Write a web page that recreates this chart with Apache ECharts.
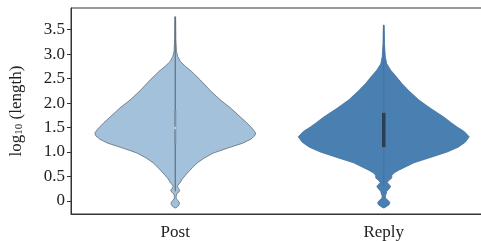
<!DOCTYPE html>
<html>
<head>
<meta charset="utf-8">
<script src="https://cdn.jsdelivr.net/npm/echarts@6/dist/echarts.min.js"></script>
<style>
  html, body { margin: 0; padding: 0; background: #fff; overflow: hidden; }
  /* plot frame runs past the right edge of the picture, as in the source figure */
  #chart { width: 488px; height: 241px; }
</style>
</head>
<body>
<div id="chart"></div>
<script>
// categories
const categories = ['Post', 'Reply'];

// violin profiles: log10(length) levels and density (reply peak = 1)
const postLevels = [-0.14, -0.11, -0.07, -0.03, 0.01, 0.05, 0.1, 0.15, 0.18, 0.22, 0.26, 0.3, 0.33, 0.38, 0.45, 0.57, 0.68, 0.78, 0.88, 0.98, 1.08, 1.18, 1.26, 1.33, 1.39, 1.47, 1.6, 1.71, 1.9, 2.06, 2.25, 2.47, 2.65, 2.75, 2.85, 2.95, 3.05, 3.3, 3.76];
const postDensity = [0, 0.03, 0.047, 0.047, 0.03, 0.012, 0.01, 0.018, 0.041, 0.053, 0.035, 0.024, 0.035, 0.059, 0.082, 0.141, 0.2, 0.259, 0.341, 0.447, 0.612, 0.788, 0.882, 0.929, 0.941, 0.906, 0.835, 0.765, 0.647, 0.529, 0.412, 0.294, 0.188, 0.118, 0.059, 0.029, 0.014, 0.007, 0.004];

const replyLevels = [-0.14, -0.11, -0.07, -0.03, 0.01, 0.05, 0.1, 0.15, 0.2, 0.24, 0.3, 0.34, 0.38, 0.42, 0.47, 0.52, 0.57, 0.63, 0.69, 0.78, 0.9, 1.0, 1.1, 1.2, 1.31, 1.42, 1.51, 1.6, 1.71, 1.9, 2.06, 2.25, 2.4, 2.55, 2.67, 2.8, 2.95, 3.2, 3.59];
const replyDensity = [0, 0.035, 0.065, 0.071, 0.053, 0.024, 0.018, 0.029, 0.035, 0.059, 0.082, 0.059, 0.041, 0.059, 0.094, 0.094, 0.118, 0.176, 0.247, 0.353, 0.565, 0.741, 0.871, 0.953, 1, 0.941, 0.859, 0.788, 0.706, 0.541, 0.412, 0.294, 0.212, 0.141, 0.082, 0.035, 0.018, 0.009, 0.004];

// inner box: [whisker low, q1, median, q3, whisker high]
const postBox = [0.2, 1.18, 1.49, 1.85, 3.76];
const replyBox = [0.3, 1.1, 1.45, 1.8, 3.59];

const yTicks = [0, 0.5, 1, 1.5, 2, 2.5, 3, 3.5];

const profiles = [
  { levels: postLevels, density: postDensity, box: postBox, fill: '#a3c1da', edge: '#5f6b78', inner: '#5e6f80', innerW: 1.2, boxColor: '#7d92a6', boxW: 2.2, median: '#c2d2e0' },
  { levels: replyLevels, density: replyDensity, box: replyBox, fill: '#4a7fb2', edge: '#42709e', inner: '#46729f', innerW: 1, boxColor: '#2c3e52', boxW: 3.5, median: null }
];

const chart = echarts.init(document.getElementById('chart'));

function renderViolin(params, api) {
  const idx = api.value(0);
  const p = profiles[idx];
  const band = api.size([1, 0])[0];
  const maxHalf = band * 0.41;
  const cx = api.coord([idx, 0])[0];
  const right = [], left = [];
  for (let i = 0; i < p.levels.length; i++) {
    const y = api.coord([idx, p.levels[i]])[1];
    const hw = Math.max(p.density[i] * maxHalf, 0.4);
    right.push([cx + hw, y]);
    left.unshift([cx - hw, y]);
  }
  const children = [{
    type: 'polygon',
    shape: { points: right.concat(left) },
    style: { fill: p.fill, stroke: p.edge, lineWidth: 0.8 }
  }];
  const yLo = api.coord([idx, p.box[0]])[1];
  const yQ1 = api.coord([idx, p.box[1]])[1];
  const yMed = api.coord([idx, p.box[2]])[1];
  const yQ3 = api.coord([idx, p.box[3]])[1];
  const yHi = api.coord([idx, p.box[4]])[1];
  children.push({
    type: 'line',
    shape: { x1: cx, y1: yLo, x2: cx, y2: yHi },
    style: { stroke: p.inner, lineWidth: p.innerW }
  });
  children.push({
    type: 'line',
    shape: { x1: cx, y1: yQ1, x2: cx, y2: yQ3 },
    style: { stroke: p.boxColor, lineWidth: p.boxW }
  });
  if (p.median) {
    children.push({
      type: 'circle',
      shape: { cx: cx, cy: yMed, r: 1.2 },
      style: { fill: p.median }
    });
  }
  return { type: 'group', children: children };
}

chart.setOption({
  animation: false,
  grid: {
    left: 70.5, top: 8, bottom: 27, right: 0,
    show: true, borderColor: '#333', borderWidth: 1
  },
  xAxis: {
    type: 'category',
    data: categories,
    boundaryGap: true,
    axisLine: { onZero: false, lineStyle: { color: '#333' } },
    axisTick: { alignWithLabel: true, inside: true, length: 4, lineStyle: { color: '#333' } },
    axisLabel: { fontFamily: 'Liberation Serif', fontSize: 17, color: '#222', margin: 10 }
  },
  yAxis: {
    type: 'value',
    min: -0.265,
    max: 3.94,
    splitLine: { show: false },
    axisLine: { show: true, lineStyle: { color: '#333' } },
    axisTick: { show: true, length: 4, customValues: yTicks, lineStyle: { color: '#333' } },
    axisLabel: {
      customValues: yTicks,
      fontFamily: 'Liberation Serif', fontSize: 17, color: '#222', margin: 6,
      formatter: v => (v === 0 ? '0' : v.toFixed(1))
    },
    name: '{a|log}{s|10}{a| (length)}',
    nameLocation: 'middle',
    nameRotate: 90,
    nameGap: 46,
    nameTextStyle: {
      rich: {
        a: { fontFamily: 'Liberation Serif', fontSize: 17, color: '#222' },
        s: { fontFamily: 'Liberation Serif', fontSize: 11, color: '#222', verticalAlign: 'bottom', padding: [6, 0, 0, 0] }
      }
    }
  },
  series: [{
    type: 'custom',
    renderItem: renderViolin,
    data: categories.map((c, i) => [i]),
    encode: { x: 0 },
    clip: false
  }]
});
</script>
</body>
</html>
